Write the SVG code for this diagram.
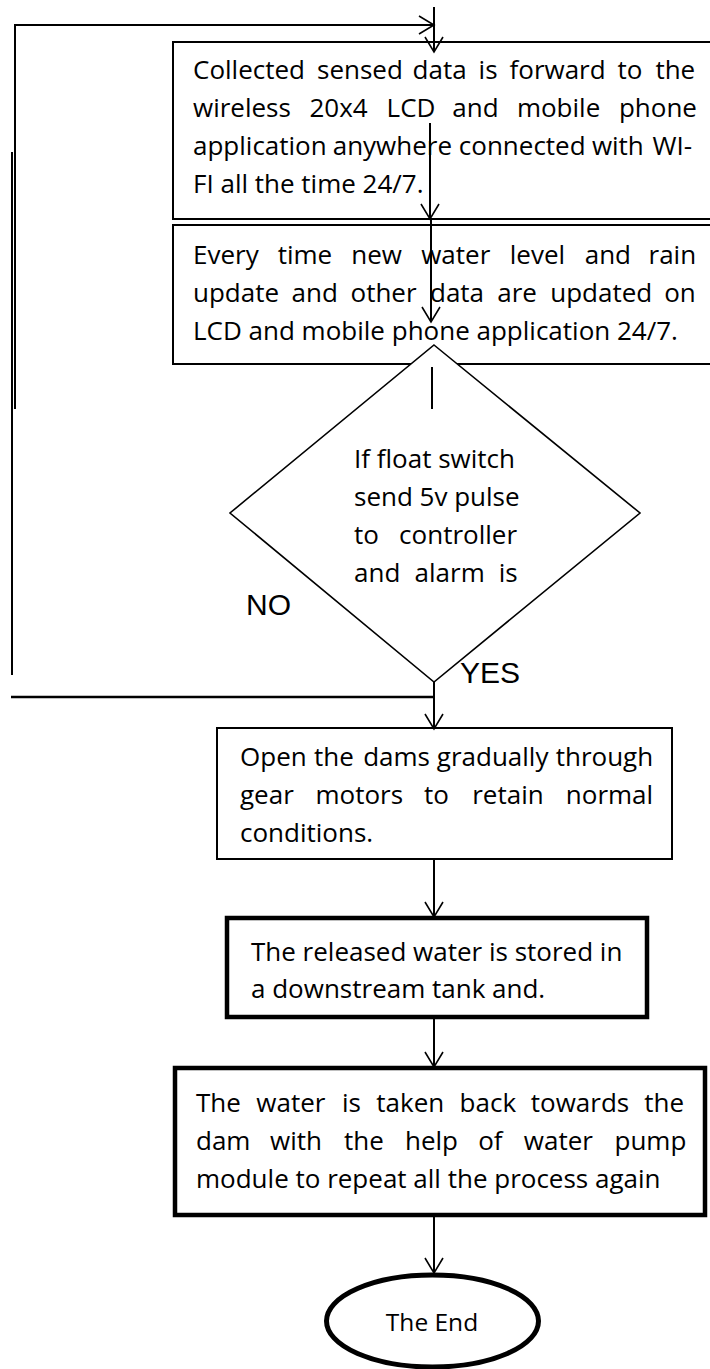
<svg xmlns="http://www.w3.org/2000/svg" width="710" height="1369" viewBox="0 0 710 1369">
<style>
.t{font-family:"Open Sans","Noto Sans",sans-serif;font-size:26px;fill:#000}
.lbl{font-family:"Liberation Sans",Arial,sans-serif;font-size:30px;fill:#000}
.box{fill:#fff;stroke:#000;stroke-width:2}
.thick{fill:#fff;stroke:#000;stroke-width:4.5}
.ln{fill:none;stroke:#000;stroke-width:2}
.ar{fill:none;stroke:#000;stroke-width:2;marker-end:url(#ah)}
</style>
<defs>
<marker id="ah" viewBox="-16 -11 18 22" refX="0" refY="0" markerWidth="18" markerHeight="22" markerUnits="userSpaceOnUse" orient="auto">
<path d="M-15,-9 L0,0 L-15,9" fill="none" stroke="#000" stroke-width="1.6"/>
</marker>
</defs>
<rect width="710" height="1369" fill="#fff"/>

<g id="box1">
<rect class="box" x="173" y="42" width="560" height="177"/>
<text class="t" y="79"><tspan x="193">Collected</tspan><tspan x="317">sensed</tspan><tspan x="412.6">data</tspan><tspan x="478.6">is</tspan><tspan x="509.5">forward</tspan><tspan x="617.4">to</tspan><tspan x="655.4">the</tspan></text>
<text class="t" y="117"><tspan x="193">wireless</tspan><tspan x="309.5">20x4</tspan><tspan x="386.6">LCD</tspan><tspan x="452.3">and</tspan><tspan x="516.9">mobile</tspan><tspan x="618.9">phone</tspan></text>
<text class="t" y="155"><tspan x="193">application</tspan><tspan x="332.7">anywhere</tspan><tspan x="458.8">connected</tspan><tspan x="591.9">with</tspan><tspan x="652.5">WI-</tspan></text>
<text class="t" x="193" y="193">FI all the time 24/7.</text>
</g>

<g id="box2">
<rect class="box" x="173" y="225" width="560" height="139"/>
<text class="t" y="264"><tspan x="193">Every</tspan><tspan x="277.7">time</tspan><tspan x="351.2">new</tspan><tspan x="421.2">water</tspan><tspan x="509.8">level</tspan><tspan x="584.7">and</tspan><tspan x="648.5">rain</tspan></text>
<text class="t" y="302"><tspan x="193">update</tspan><tspan x="291.6">and</tspan><tspan x="350.5">other</tspan><tspan x="430">data</tspan><tspan x="497.3">are</tspan><tspan x="550.2">updated</tspan><tspan x="664.2">on</tspan></text>
<text class="t" x="193" y="340">LCD and mobile phone application 24/7.</text>
</g>

<g id="decision">
<polygon points="434,345 640,513 434,682 230,513" fill="#fff" stroke="#000" stroke-width="1.6"/>
<text class="t" x="354" y="468">If float switch</text>
<text class="t" x="354" y="506">send 5v pulse</text>
<text class="t" y="544"><tspan x="354">to</tspan><tspan x="399.1">controller</tspan></text>
<text class="t" y="582"><tspan x="354">and</tspan><tspan x="414.6">alarm</tspan><tspan x="498.8">is</tspan></text>
</g>

<g id="labels">
<text class="lbl" x="246" y="615">NO</text>
<text class="lbl" x="460" y="683">YES</text>
</g>

<g id="box3">
<rect class="box" x="217" y="728" width="455" height="131"/>
<text class="t" y="766"><tspan x="240">Open</tspan><tspan x="314.1">the</tspan><tspan x="363.2">dams</tspan><tspan x="436.8">gradually</tspan><tspan x="555.7">through</tspan></text>
<text class="t" y="804"><tspan x="240">gear</tspan><tspan x="315.5">motors</tspan><tspan x="424.1">to</tspan><tspan x="472.2">retain</tspan><tspan x="565.8">normal</tspan></text>
<text class="t" x="240" y="842">conditions.</text>
</g>

<g id="box4">
<rect class="thick" x="227" y="918" width="420" height="99"/>
<text class="t" x="251" y="961">The released water is stored in</text>
<text class="t" x="251" y="998">a downstream tank and.</text>
</g>

<g id="box5">
<rect class="thick" x="175" y="1068" width="530" height="147"/>
<text class="t" y="1112"><tspan x="196">The</tspan><tspan x="256.3">water</tspan><tspan x="342">is</tspan><tspan x="376.3">taken</tspan><tspan x="459.6">back</tspan><tspan x="530.8">towards</tspan><tspan x="644.2">the</tspan></text>
<text class="t" y="1150"><tspan x="196">dam</tspan><tspan x="270">with</tspan><tspan x="344">the</tspan><tspan x="405">help</tspan><tspan x="478.2">of</tspan><tspan x="523.8">water</tspan><tspan x="614.5">pump</tspan></text>
<text class="t" x="196" y="1188">module to repeat all the process again</text>
</g>

<g id="end">
<ellipse cx="432.5" cy="1321" rx="106" ry="46" fill="#fff" stroke="#000" stroke-width="5"/>
<text class="t" x="432" y="1331" text-anchor="middle" style="font-size:24.5px">The End</text>
</g>

<g id="connectors">
<line class="ar" x1="434" y1="7" x2="434" y2="52"/>
<polyline class="ar" points="15,409 15,25 434,25"/>
<line class="ln" x1="12" y1="152" x2="12" y2="675"/>
<line class="ar" x1="430" y1="123" x2="430" y2="219"/>
<line class="ar" x1="431" y1="219" x2="431" y2="322"/>
<line class="ln" x1="432" y1="367" x2="432" y2="409"/>
<line class="ln" x1="11" y1="697" x2="434" y2="697" style="stroke-width:2.5"/>
<line class="ar" x1="434" y1="682" x2="434" y2="729"/>
<line class="ar" x1="434" y1="859" x2="434" y2="917"/>
<line class="ar" x1="434" y1="1017" x2="434" y2="1067"/>
<line class="ar" x1="434" y1="1215" x2="434" y2="1273"/>
</g>
</svg>
